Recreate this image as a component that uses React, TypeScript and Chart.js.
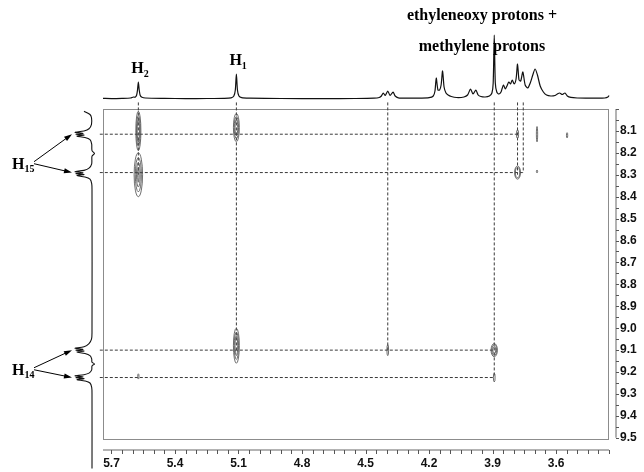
import React, { useEffect, useRef } from 'react';
import { Chart, registerables } from 'chart.js';

Chart.register(...registerables);

// ---- axis tick labels (ppm) ----
const X_TICKS = [5.7, 5.4, 5.1, 4.8, 4.5, 4.2, 3.9, 3.6];
const Y_TICKS = [8.1, 8.2, 8.3, 8.4, 8.5, 8.6, 8.7, 8.8, 8.9, 9.0, 9.1, 9.2, 9.3, 9.4, 9.5];

// ---- top 1D projection (F2, ppm vs relative intensity) ----
const topPpm = [5.74, 5.70, 5.65, 5.61, 5.596, 5.588, 5.581, 5.577, 5.573, 5.569, 5.564, 5.556, 5.54, 5.45, 5.35, 5.25, 5.17, 5.135, 5.122, 5.115, 5.11, 5.105, 5.098, 5.085, 5.05, 4.90, 4.70, 4.55, 4.46, 4.435, 4.425, 4.416, 4.407, 4.395, 4.384, 4.37, 4.36, 4.345, 4.30, 4.24, 4.20, 4.18, 4.172, 4.166, 4.158, 4.150, 4.143, 4.136, 4.129, 4.12, 4.11, 4.095, 4.07, 4.035, 4.018, 4.004, 3.992, 3.979, 3.968, 3.955, 3.935, 3.915, 3.903, 3.897, 3.892, 3.887, 3.88, 3.87, 3.86, 3.854, 3.848, 3.840, 3.832, 3.823, 3.815, 3.807, 3.798, 3.789, 3.782, 3.775, 3.767, 3.757, 3.746, 3.734, 3.722, 3.71, 3.699, 3.688, 3.675, 3.66, 3.645, 3.625, 3.605, 3.594, 3.583, 3.571, 3.558, 3.547, 3.53, 3.50, 3.46, 3.41, 3.37, 3.355, 3.35];
const topIntensity = [0.6, 0.4, 0.6, 1, 2, 1.8, 4, 9, 17, 9, 3.5, 1.8, 1, 0.6, 0.4, 0.5, 0.7, 1.2, 3, 9, 25, 9, 3, 1.3, 0.8, 0.5, 0.4, 0.5, 0.8, 1.5, 3, 6, 3.5, 8, 3.5, 7, 3, 1.2, 0.8, 0.9, 1.3, 3, 8, 21, 9, 9, 14, 28, 12, 6, 4, 2.5, 1.5, 2, 4, 10, 5, 9, 4, 2.5, 2, 3, 6, 16, 64, 16, 7, 5, 7, 11, 14, 10, 13, 17, 15, 19, 15, 20, 35, 19, 18, 27, 14, 11, 16, 24, 30, 24, 13, 7, 4, 3, 3.5, 5, 6, 4.5, 6, 3, 1.6, 1, 0.8, 0.8, 1, 2, 3.5];

// ---- left 1D projection (F1, ppm vs relative intensity) ----
const leftPpm = [8.01, 8.025, 8.04, 8.07, 8.09, 8.10, 8.106, 8.111, 8.115, 8.119, 8.124, 8.13, 8.14, 8.16, 8.19, 8.203, 8.215, 8.25, 8.27, 8.28, 8.286, 8.291, 8.295, 8.299, 8.304, 8.31, 8.32, 8.34, 8.37, 9.02, 9.05, 9.07, 9.085, 9.091, 9.096, 9.10, 9.104, 9.109, 9.115, 9.125, 9.14, 9.155, 9.163, 9.172, 9.19, 9.205, 9.212, 9.217, 9.222, 9.226, 9.23, 9.235, 9.241, 9.25, 9.27, 9.30, 9.64];
const leftIntensity = [8, 2, 0.5, 0.5, 3, 8, 17, 9, 16, 8, 15, 7, 2, 0.3, 0, -2.5, 0, 0.3, 3, 8, 17, 9, 16, 8, 15, 7, 2, 0.3, 0, 0, 0.5, 3, 8, 17, 9, 16, 8, 15, 7, 2, 0.3, 0, -2.5, 0, 0.3, 3, 8, 17, 9, 16, 8, 15, 7, 2, 0.3, 0, 0];

// ---- dashed correlation guides ----
const vLinePpm = [5.573, 5.11, 4.395, 3.892, 3.782, 3.755];
const vLineEnd = [8.30, 9.10, 9.10, 9.225, 8.30, 8.29];
const hLinePpm = [8.115, 8.29, 9.10, 9.225];
const hLineEnd = [3.782, 3.755, 3.892, 3.892];

// ---- cross peaks (F2, F1, half-widths in ppm, contour levels) ----
const crossF2 = [5.573, 5.573, 5.11, 5.11, 4.395, 3.892, 3.892, 3.782, 3.782, 3.69, 3.548, 3.69, 5.573];
const crossF1 = [8.10, 8.30, 8.085, 9.08, 9.10, 9.10, 9.225, 8.115, 8.29, 8.115, 8.12, 8.285, 9.22];
const crossHalfF2 = [0.012, 0.02, 0.014, 0.014, 0.004, 0.015, 0.004, 0.005, 0.014, 0.003, 0.003, 0.003, 0.003];
const crossHalfF1 = [0.09, 0.1, 0.065, 0.08, 0.025, 0.03, 0.02, 0.02, 0.03, 0.035, 0.012, 0.006, 0.012];
const crossLevels = [3, 4, 3, 3, 1, 3, 1, 1, 2, 1, 1, 1, 1];

const SERIF = '"Liberation Serif", "Times New Roman", serif';
const SANS = '"Liberation Sans", Arial, sans-serif';

function drawH(ctx: CanvasRenderingContext2D, left: number, baseline: number, sub: string, size: number) {
  ctx.font = `bold ${size}px ${SERIF}`;
  ctx.textAlign = 'left';
  ctx.textBaseline = 'alphabetic';
  ctx.fillText('H', left, baseline);
  const w = ctx.measureText('H').width;
  ctx.font = `bold ${Math.round(size * 0.62)}px ${SERIF}`;
  ctx.fillText(sub, left + w, baseline + size * 0.22);
}

function arrow(ctx: CanvasRenderingContext2D, x1: number, y1: number, x2: number, y2: number) {
  const ang = Math.atan2(y2 - y1, x2 - x1);
  const L = 8, W = 2.6;
  ctx.beginPath();
  ctx.moveTo(x1, y1);
  ctx.lineTo(x2 - Math.cos(ang) * L * 0.8, y2 - Math.sin(ang) * L * 0.8);
  ctx.stroke();
  ctx.beginPath();
  ctx.moveTo(x2, y2);
  ctx.lineTo(x2 - Math.cos(ang) * L - Math.sin(ang) * W, y2 - Math.sin(ang) * L + Math.cos(ang) * W);
  ctx.lineTo(x2 - Math.cos(ang) * L + Math.sin(ang) * W, y2 - Math.sin(ang) * L - Math.cos(ang) * W);
  ctx.closePath();
  ctx.fill();
}

const overlayPlugin = {
  id: 'nmrOverlay',
  beforeDatasetsDraw(chart: any) {
    const { ctx, chartArea: a } = chart;
    ctx.save();
    ctx.strokeStyle = '#8c8c8c';
    ctx.lineWidth = 1;
    ctx.strokeRect(a.left + 0.5, a.top + 0.5, a.right - a.left - 1, a.bottom - a.top - 1);
    ctx.restore();
  },
  afterDatasetsDraw(chart: any) {
    const { ctx } = chart;
    const xs = chart.scales.x, ys = chart.scales.y;
    ctx.save();
    ctx.strokeStyle = '#4a4a4a';
    ctx.lineWidth = 0.8;
    for (let i = 0; i < crossF2.length; i++) {
      const cx = xs.getPixelForValue(crossF2[i]);
      const cy = ys.getPixelForValue(crossF1[i]);
      const rx = Math.abs(xs.getPixelForValue(crossF2[i] + crossHalfF2[i]) - cx);
      const ry = Math.abs(ys.getPixelForValue(crossF1[i] + crossHalfF1[i]) - cy);
      for (let k = 0; k < crossLevels[i]; k++) {
        const fx = 1 - k * 0.28, fy = 1 - k * 0.22;
        ctx.beginPath();
        ctx.ellipse(cx, cy, Math.max(0.6, rx * fx), Math.max(0.8, ry * fy), 0, 0, Math.PI * 2);
        ctx.stroke();
      }
    }
    ctx.restore();
  },
  afterDraw(chart: any) {
    const { ctx, chartArea: a } = chart;
    const xs = chart.scales.x, ys = chart.scales.y, xl = chart.scales.xLeft, yt = chart.scales.yTop;
    ctx.save();
    // bottom axis line + minor ticks
    const axY = a.bottom + 10;
    ctx.strokeStyle = '#9a9a9a';
    ctx.lineWidth = 1.5;
    ctx.beginPath();
    ctx.moveTo(a.left, axY);
    ctx.lineTo(a.right, axY);
    ctx.stroke();
    ctx.lineWidth = 1;
    ctx.strokeStyle = '#555';
    for (let k = Math.ceil(xs.min / 0.05 - 1e-6); k <= Math.floor(xs.max / 0.05 + 1e-6); k++) {
      const px = Math.round(xs.getPixelForValue(k * 0.05)) + 0.5;
      ctx.beginPath();
      ctx.moveTo(px, axY);
      ctx.lineTo(px, axY + 4);
      ctx.stroke();
    }
    // right axis line + minor ticks
    const axX = a.right + 7;
    ctx.strokeStyle = '#9a9a9a';
    ctx.lineWidth = 1.5;
    ctx.beginPath();
    ctx.moveTo(axX, ys.getPixelForValue(8.0));
    ctx.lineTo(axX, ys.getPixelForValue(9.5));
    ctx.stroke();
    ctx.lineWidth = 1;
    ctx.strokeStyle = '#555';
    for (let k = 160; k <= 190; k++) {
      const py = Math.round(ys.getPixelForValue(k * 0.05)) + 0.5;
      ctx.beginPath();
      ctx.moveTo(axX, py);
      ctx.lineTo(axX + 3, py);
      ctx.stroke();
    }

    // labels
    ctx.fillStyle = '#000';
    ctx.strokeStyle = '#000';
    ctx.lineWidth = 1;
    const topBase = yt.getPixelForValue(0);
    drawH(ctx, xs.getPixelForValue(5.573) - 7, topBase - 26, '2', 16);
    drawH(ctx, xs.getPixelForValue(5.11) - 7, topBase - 34, '1', 16);

    ctx.font = `bold 16px ${SERIF}`;
    ctx.textAlign = 'center';
    ctx.textBaseline = 'alphabetic';
    const cx = xs.getPixelForValue(3.95);
    ctx.fillText('ethyleneoxy protons +', cx, 20);
    ctx.fillText('methylene protons', cx, 51);

    const tipX = xl.getPixelForValue(20);
    const y15a = ys.getPixelForValue(8.115), y15b = ys.getPixelForValue(8.29);
    const y14a = ys.getPixelForValue(9.10), y14b = ys.getPixelForValue(9.225);
    const o15 = ys.getPixelForValue(8.245);
    const o14 = ys.getPixelForValue(9.185);
    drawH(ctx, 12, o15 + 6, '15', 16);
    drawH(ctx, 12, o14 + 6, '14', 16);
    arrow(ctx, 34, o15 - 1, tipX, y15a);
    arrow(ctx, 34, o15 + 1, tipX, y15b);
    arrow(ctx, 34, o14 - 1, tipX, y14a);
    arrow(ctx, 34, o14 + 1, tipX, y14b);
    ctx.restore();
  },
};

export default function App() {
  const ref = useRef<HTMLCanvasElement>(null);
  useEffect(() => {
    const canvas = ref.current!;
    const dashed = (pts: { x: number; y: number }[], xAxisID = 'x', yAxisID = 'y') => ({
      data: pts,
      xAxisID,
      yAxisID,
      borderColor: '#3a3a3a',
      borderWidth: 1,
      borderDash: [3, 2],
      pointRadius: 0,
      tension: 0,
      clip: false as any,
    });
    const datasets: any[] = [];
    vLinePpm.forEach((v, i) => datasets.push(dashed([{ x: v, y: 7.97 }, { x: v, y: vLineEnd[i] }])));
    hLinePpm.forEach((v, i) => datasets.push(dashed([{ x: 5.755, y: v }, { x: hLineEnd[i], y: v }])));
    datasets.push({
      data: topPpm.map((p, i) => ({ x: p, y: topIntensity[i] })),
      xAxisID: 'x',
      yAxisID: 'yTop',
      borderColor: '#111',
      borderWidth: 1.2,
      pointRadius: 0,
      tension: 0.25,
      clip: false,
    });
    datasets.push({
      data: leftPpm.map((p, i) => ({ x: leftIntensity[i], y: p })),
      xAxisID: 'xLeft',
      yAxisID: 'y',
      borderColor: '#111',
      borderWidth: 1.1,
      pointRadius: 0,
      tension: 0.3,
      clip: false,
    });

    const tickFont = { family: SANS, size: 12, weight: 'bold' as const };
    const chart = new Chart(canvas, {
      type: 'line',
      data: { datasets },
      plugins: [overlayPlugin],
      options: {
        animation: false,
        responsive: false,
        devicePixelRatio: 1,
        events: [],
        layout: { padding: { left: 103, top: 109, right: 0, bottom: 0 } },
        plugins: { legend: { display: false }, tooltip: { enabled: false } },
        scales: {
          x: {
            type: 'linear',
            position: 'bottom',
            reverse: true,
            min: 3.35,
            max: 5.74,
            grid: { display: false },
            border: { display: false },
            afterBuildTicks: (s: any) => { s.ticks = X_TICKS.map((v) => ({ value: v })); },
            afterFit: (s: any) => { s.height = 32; },
            ticks: {
              autoSkip: false,
              maxRotation: 0,
              padding: 8,
              color: '#111',
              font: tickFont,
              callback: (v: any) => Number(v).toFixed(1),
            },
          },
          y: {
            type: 'linear',
            position: 'right',
            reverse: true,
            min: 8.0,
            max: 9.51,
            grid: { display: false },
            border: { display: false },
            afterBuildTicks: (s: any) => { s.ticks = Y_TICKS.map((v) => ({ value: v })); },
            afterFit: (s: any) => { s.width = 35; },
            ticks: {
              autoSkip: false,
              padding: 3,
              color: '#111',
              font: tickFont,
              callback: (v: any) => Number(v).toFixed(1),
            },
          },
          xLeft: { type: 'linear', display: false, reverse: true, min: -517, max: -11 },
          yTop: { type: 'linear', display: false, min: -341, max: -10 },
        },
      } as any,
    });
    return () => chart.destroy();
  }, []);
  return (
    <div style={{ position: 'fixed', left: 0, top: 0, width: 644, height: 472, background: '#fff' }}>
      <canvas ref={ref} width={644} height={472} style={{ display: 'block', width: 644, height: 472 }} />
    </div>
  );
}
